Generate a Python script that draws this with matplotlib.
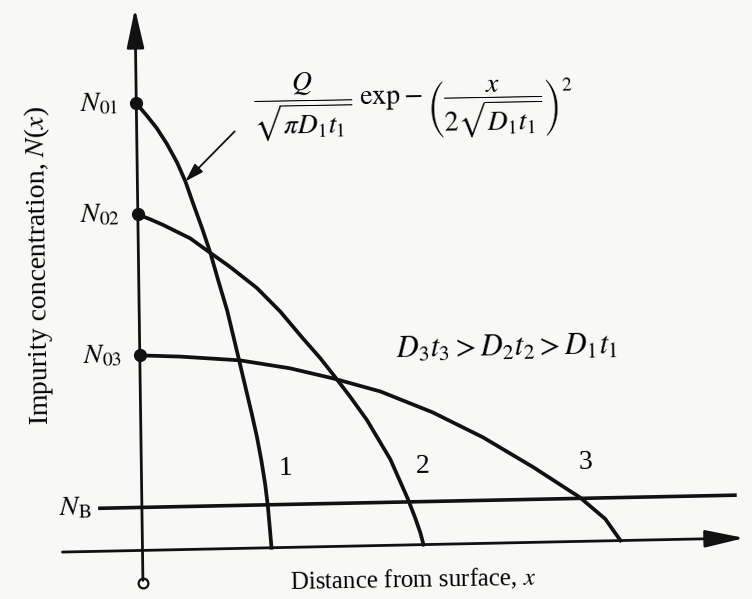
import numpy as np
import matplotlib
matplotlib.use('Agg')
import matplotlib.pyplot as plt
from matplotlib.transforms import Affine2D

plt.rcParams['font.family'] = 'Liberation Serif'
plt.rcParams['mathtext.fontset'] = 'stix'

# Gaussian diffusion profiles after successive drive-ins (arbitrary units)
x1 = [0, 0.10, 0.20, 0.30, 0.40, 0.48, 0.55, 0.64, 0.72, 0.79, 0.88, 0.97,
      1.05, 1.11, 1.16, 1.20, 1.235, 1.26, 1.275, 1.29]
n1 = [4.47, 4.35, 4.22, 4.06, 3.87, 3.68, 3.47, 3.21, 2.96, 2.70, 2.38, 1.98,
      1.62, 1.35, 1.11, 0.88, 0.64, 0.41, 0.21, 0]
x2 = [0, 0.12, 0.25, 0.52, 0.72, 0.91, 1.18, 1.41, 1.63, 1.80, 1.93, 2.10,
      2.26, 2.49, 2.66, 2.73, 2.78, 2.81]
n2 = [3.36, 3.31, 3.25, 3.11, 2.96, 2.82, 2.60, 2.36, 2.09, 1.89, 1.72, 1.49,
      1.26, 0.86, 0.46, 0.27, 0.12, 0]
x3 = [0, 0.40, 1.00, 1.50, 1.93, 2.40, 2.92, 3.42, 3.92, 4.38, 4.63, 4.78]
n3 = [1.95, 1.93, 1.88, 1.79, 1.68, 1.54, 1.32, 1.06, 0.75, 0.44, 0.22, 0]
n_b = 0.43

surface_labels = [r'$N_{\mathrm{01}}$', r'$N_{\mathrm{02}}$', r'$N_{\mathrm{03}}$']
curve_labels = ['1', '2', '3']
curve_label_x = [1.44, 2.81, 4.44]
curve_label_y = [0.79, 0.78, 0.79]

ink = '#111111'
bg = '#f8f8f6'

fig = plt.figure(figsize=(7.52, 5.99), dpi=100, facecolor=bg)
ax = fig.add_axes([0, 0, 1, 1])
ax.set_xlim(-1.425, 6.095)
ax.set_ylim(-0.486, 5.504)
ax.axis('off')
ax.set_facecolor(bg)

# the sketch is slightly skewed: x axis rises to the right, y axis leans left
ox, oy = 142.5, 48.6
skew = Affine2D(np.array([[1.0, -0.0139, 0.0], [0.0206, 1.0, 0.0], [0, 0, 1]]))
tr = ax.transData + Affine2D().translate(-ox, -oy) + skew + Affine2D().translate(ox, oy)

# axes with arrow heads
head = dict(arrowstyle='-|>,head_length=1.0,head_width=0.22', mutation_scale=24,
            lw=2.0, color=ink, shrinkA=0, shrinkB=0)
ax.annotate('', xy=(0, 5.42), xytext=(0, -0.30), xycoords=tr, textcoords=tr,
            arrowprops=head)
ax.annotate('', xy=(6.02, 0), xytext=(-0.80, 0), xycoords=tr, textcoords=tr,
            arrowprops=head)
ax.plot([0], [-0.33], 'o', ms=7, mfc=bg, mec=ink, mew=1.6, transform=tr)

# background doping level
ax.plot([-0.42, 5.93], [n_b, n_b], color=ink, lw=2.6, transform=tr)
ax.text(-0.50, n_b, r'$N_{\mathrm{B}}$', ha='right', va='center', fontsize=20,
        rotation=1, transform=tr)

for xs, ns in [(x1, n1), (x2, n2), (x3, n3)]:
    ax.plot(xs, ns, color=ink, lw=2.7, solid_joinstyle='round', transform=tr)

surface = [n1[0], n2[0], n3[0]]
ax.plot([0] * 3, surface, 'o', ms=8.5, color=ink, transform=tr)
for lab, n0 in zip(surface_labels, surface):
    ax.text(-0.18, n0, lab, ha='right', va='center', fontsize=20, rotation=1,
            transform=tr)

for lab, lx, ly in zip(curve_labels, curve_label_x, curve_label_y):
    ax.text(lx, ly, lab, ha='center', va='center', fontsize=20, rotation=1,
            transform=tr)

ax.text(3.67, 1.95, r'$D_3t_3 > D_2t_2 > D_1t_1$', ha='center', va='center',
        fontsize=22, rotation=1, transform=tr)

ax.text(2.77, 4.40,
        r'$\dfrac{Q}{\sqrt{\pi D_1t_1}}\ \mathrm{exp} - \left(\dfrac{x}{2\sqrt{D_1t_1}}\right)^2$',
        ha='center', va='center', fontsize=20, rotation=1, transform=tr)
ax.annotate('', xy=(x1[5], n1[5]), xytext=(0.98, 4.17), xycoords=tr, textcoords=tr,
            arrowprops=dict(arrowstyle='-|>,head_length=0.8,head_width=0.25',
                            mutation_scale=14, lw=1.3, color=ink,
                            shrinkA=0, shrinkB=0))

ax.text(-1.00, 2.87, r'Impurity concentration, $N$($x$)', rotation=90.8,
        ha='center', va='center', fontsize=20, transform=tr)
ax.text(2.70, -0.35, r'Distance from surface, $x$', ha='center', va='center',
        fontsize=18, rotation=1, transform=tr)

fig.savefig('out.png', dpi=100, facecolor=bg)
